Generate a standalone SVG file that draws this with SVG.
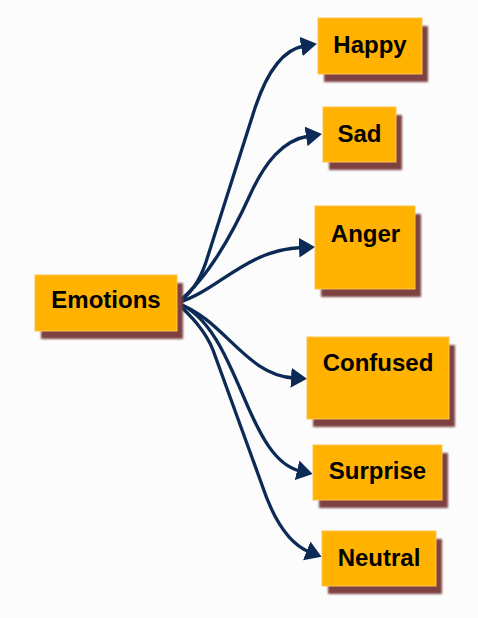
<svg xmlns="http://www.w3.org/2000/svg" width="478" height="618" viewBox="0 0 478 618">
<defs>
<style>
.box{fill:#FFB300;stroke:#FFC24A;stroke-width:1}
.shadow{fill:#7E4343;filter:url(#blur)}
.lbl{font-family:"Liberation Sans",Arial,sans-serif;font-weight:bold;font-size:24px;fill:#000;text-anchor:middle}
.edge{fill:none;stroke:#0B2A55;stroke-width:3.3;marker-end:url(#arr)}
</style>
<filter id="blur" x="-10%" y="-10%" width="120%" height="120%"><feGaussianBlur stdDeviation="0.8"/></filter>
<marker id="arr" markerUnits="userSpaceOnUse" markerWidth="18" markerHeight="22" viewBox="0 0 18 22" refX="3" refY="11" orient="auto">
<path d="M0,1 L16,11 L0,21 Z" fill="#0B2A55"/>
</marker>
</defs>
<rect width="478" height="618" fill="#FCFCFD"/>
<g id="connectors">
<path class="edge" d="M177,303 C190,295 200,280 206,262 L255,108 C265,78 280,50 304,46"/>
<path class="edge" d="M177,303 C200,285 225,250 250,195 C265,162 283,140 309,136"/>
<path class="edge" d="M177,303 C220,290 245,250 302,247.5"/>
<path class="edge" d="M177,303 C225,320 245,375 294,378"/>
<path class="edge" d="M177,303 C210,315 228,360 245,400 C260,435 275,465 300,471"/>
<path class="edge" d="M177,303 C190,315 205,330 213,350 L262,485 C272,515 287,543 309.5,552"/>
</g>
<g id="node-emotions">
<rect class="shadow" x="41" y="283" width="142" height="56"/>
<rect class="box" x="35" y="275" width="142" height="56"/>
<text class="lbl" x="106" y="308">Emotions</text>
</g>
<g id="node-happy">
<rect class="shadow" x="324" y="26" width="104" height="56"/>
<rect class="box" x="318" y="18" width="104" height="56"/>
<text class="lbl" x="370" y="53">Happy</text>
</g>
<g id="node-sad">
<rect class="shadow" x="329" y="115" width="73" height="55"/>
<rect class="box" x="323" y="107" width="73" height="55"/>
<text class="lbl" x="359.5" y="142">Sad</text>
</g>
<g id="node-anger">
<rect class="shadow" x="321" y="214" width="100" height="83"/>
<rect class="box" x="315" y="206" width="100" height="83"/>
<text class="lbl" x="365.5" y="241.5">Anger</text>
</g>
<g id="node-confused">
<rect class="shadow" x="313" y="345" width="142" height="82"/>
<rect class="box" x="307" y="337" width="142" height="82"/>
<text class="lbl" x="378" y="371">Confused</text>
</g>
<g id="node-surprise">
<rect class="shadow" x="319" y="453" width="129" height="55"/>
<rect class="box" x="313" y="445" width="129" height="55"/>
<text class="lbl" x="377.5" y="479">Surprise</text>
</g>
<g id="node-neutral">
<rect class="shadow" x="328" y="539" width="114" height="55"/>
<rect class="box" x="322" y="531" width="114" height="55"/>
<text class="lbl" x="379" y="566">Neutral</text>
</g>
</svg>
